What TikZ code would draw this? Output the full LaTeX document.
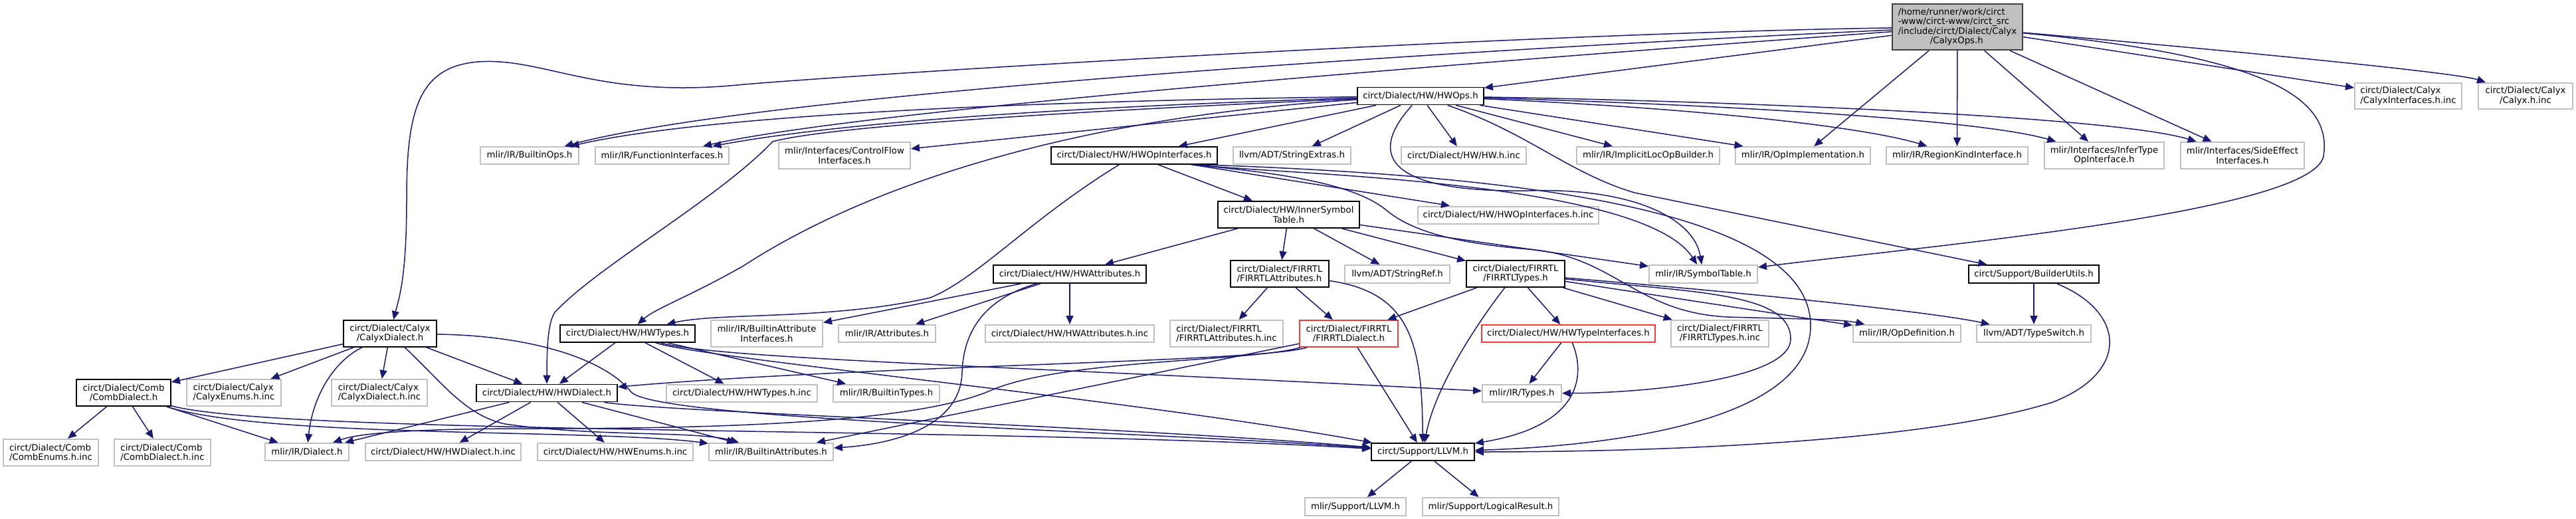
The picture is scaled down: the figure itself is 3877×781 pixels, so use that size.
\documentclass[tikz,border=0pt]{standalone}
\usepackage{fontspec}
\setmainfont{DejaVu Sans}
\usetikzlibrary{arrows.meta}
\definecolor{edgecol}{HTML}{191970}
\definecolor{leafcol}{HTML}{BFBFBF}
\definecolor{rootfill}{HTML}{BFBFBF}
\definecolor{rootdraw}{HTML}{404040}
\definecolor{redcol}{HTML}{F03C3C}
\begin{document}
\begin{tikzpicture}[x=1pt,y=-1pt,
  box/.style={draw, fill=white, inner sep=0pt, align=center, font=\fontsize{13.3}{14.5}\selectfont},
  leafbox/.style={box, draw=leafcol, line width=2pt},
  incbox/.style={box, draw=black, line width=1.8pt},
  redbox/.style={box, draw=redcol, line width=1.8pt},
  rootbox/.style={box, draw=rootdraw, fill=rootfill, line width=2.5pt, align=left},
  lft/.style={align=left},
  sz/.style 2 args={minimum width=#1pt, minimum height=#2pt},
  edge/.style={draw=edgecol, line width=1.5pt, -{Triangle[length=13pt,width=11pt]}},
]
\fill[white] (0,0) rectangle (3877,781);
\useasboundingbox (0,0) rectangle (3877,781);

% ---------- nodes ----------
\node[rootbox, sz={196}{69}] (root) at (2946,40.5) {/home/runner/work/circt\\-www/circt-www/circt\_src\\/include/circt/Dialect/Calyx\\\hspace*{48pt}/CalyxOps.h};
\node[leafbox, lft, sz={161}{39}] (calyxIfInc) at (3624.5,144.5) {circt/Dialect/Calyx\\/CalyxInterfaces.h.inc};
\node[leafbox, sz={142}{39}] (calyxInc) at (3801,144.5) {circt/Dialect/Calyx\\/Calyx.h.inc};
\node[incbox, sz={190}{26}] (hwOps) at (2138,144.5) {circt/Dialect/HW/HWOps.h};

\node[leafbox, sz={148}{26}] (builtinOps) at (797,234) {mlir/IR/BuiltinOps.h};
\node[leafbox, sz={201}{26}] (funcIf) at (996.5,234) {mlir/IR/FunctionInterfaces.h};
\node[leafbox, sz={198}{40}] (controlFlow) at (1271,234) {mlir/Interfaces/ControlFlow\\Interfaces.h};
\node[incbox, sz={250}{26}] (hwOpIf) at (1707,234) {circt/Dialect/HW/HWOpInterfaces.h};
\node[leafbox, sz={177}{26}] (stringExtras) at (1944.5,234) {llvm/ADT/StringExtras.h};
\node[leafbox, sz={188}{26}] (hwInc) at (2203,234) {circt/Dialect/HW/HW.h.inc};
\node[leafbox, sz={215}{26}] (implicitLoc) at (2480.5,234) {mlir/IR/ImplicitLocOpBuilder.h};
\node[leafbox, sz={203}{26}] (opImpl) at (2713.5,234) {mlir/IR/OpImplementation.h};
\node[leafbox, sz={213}{26}] (regionKind) at (2945.5,234) {mlir/IR/RegionKindInterface.h};
\node[leafbox, sz={180}{40}] (inferType) at (3167,234) {mlir/Interfaces/InferType\\OpInterface.h};
\node[leafbox, sz={186}{40}] (sideEffect) at (3375,234) {mlir/Interfaces/SideEffect\\Interfaces.h};

\node[incbox, sz={213}{40}] (innerSym) at (1939.5,323) {circt/Dialect/HW/InnerSymbol\\Table.h};
\node[leafbox, sz={272}{26}] (hwOpIfInc) at (2270,323.5) {circt/Dialect/HW/HWOpInterfaces.h.inc};

\node[incbox, sz={230}{27}] (hwAttr) at (1610,412.5) {circt/Dialect/HW/HWAttributes.h};
\node[incbox, lft, sz={148}{40}] (firAttr) at (1926,412) {circt/Dialect/FIRRTL\\/FIRRTLAttributes.h};
\node[leafbox, sz={158}{27}] (stringRef) at (2103,412.5) {llvm/ADT/StringRef.h};
\node[incbox, sz={148}{40}] (firTypes) at (2281,412) {circt/Dialect/FIRRTL\\/FIRRTLTypes.h};
\node[leafbox, sz={163}{27}] (symTable) at (2563.5,412.5) {mlir/IR/SymbolTable.h};
\node[incbox, sz={196}{27}] (builderUtils) at (3061,412.5) {circt/Support/BuilderUtils.h};

\node[incbox, sz={140}{40}] (calyxDialect) at (587,502) {circt/Dialect/Calyx\\/CalyxDialect.h};
\node[incbox, sz={203}{26}] (hwTypes) at (944.5,502) {circt/Dialect/HW/HWTypes.h};
\node[leafbox, sz={168}{40}] (biAttrIf) at (1154,502) {mlir/IR/BuiltinAttribute\\Interfaces.h};
\node[leafbox, sz={146}{26}] (attributes) at (1335,502) {mlir/IR/Attributes.h};
\node[leafbox, sz={254}{26}] (hwAttrInc) at (1610,502) {circt/Dialect/HW/HWAttributes.h.inc};
\node[leafbox, lft, sz={170}{40}] (firAttrInc) at (1846,502) {circt/Dialect/FIRRTL\\/FIRRTLAttributes.h.inc};
\node[redbox, sz={148}{40}] (firDialect) at (2030,502) {circt/Dialect/FIRRTL\\/FIRRTLDialect.h};
\node[redbox, sz={261}{26}] (hwTypeIf) at (2360.5,502) {circt/Dialect/HW/HWTypeInterfaces.h};
\node[leafbox, sz={147}{40}] (firTypesInc) at (2588.5,502) {circt/Dialect/FIRRTL\\/FIRRTLTypes.h.inc};
\node[leafbox, sz={162}{26}] (opDef) at (2870,502) {mlir/IR/OpDefinition.h};
\node[leafbox, sz={172}{26}] (typeSwitch) at (3061,502) {llvm/ADT/TypeSwitch.h};

\node[incbox, sz={142}{40}] (combDialect) at (186,591) {circt/Dialect/Comb\\/CombDialect.h};
\node[leafbox, lft, sz={142}{40}] (calyxEnumsInc) at (352,591) {circt/Dialect/Calyx\\/CalyxEnums.h.inc};
\node[leafbox, lft, sz={144}{40}] (calyxDialectInc) at (571,591) {circt/Dialect/Calyx\\/CalyxDialect.h.inc};
\node[incbox, sz={212}{26}] (hwDialect) at (823,591.5) {circt/Dialect/HW/HWDialect.h};
\node[leafbox, sz={227}{26}] (hwTypesInc) at (1116.5,591.5) {circt/Dialect/HW/HWTypes.h.inc};
\node[leafbox, sz={160}{26}] (builtinTypes) at (1334,591.5) {mlir/IR/BuiltinTypes.h};
\node[leafbox, sz={119}{26}] (types) at (2290.5,591.5) {mlir/IR/Types.h};

\node[leafbox, lft, sz={143}{40}] (combEnumsInc) at (76.5,681) {circt/Dialect/Comb\\/CombEnums.h.inc};
\node[leafbox, lft, sz={145}{40}] (combDialectInc) at (244.5,681) {circt/Dialect/Comb\\/CombDialect.h.inc};
\node[leafbox, sz={126}{26}] (dialect) at (462,680) {mlir/IR/Dialect.h};
\node[leafbox, sz={234}{26}] (hwDialectInc) at (667,680) {circt/Dialect/HW/HWDialect.h.inc};
\node[leafbox, sz={234}{26}] (hwEnumsInc) at (926,680) {circt/Dialect/HW/HWEnums.h.inc};
\node[leafbox, sz={187}{26}] (builtinAttrs) at (1160.5,680) {mlir/IR/BuiltinAttributes.h};
\node[incbox, sz={155}{26}] (llvm) at (2141.5,680) {circt/Support/LLVM.h};

\node[leafbox, sz={152}{27}] (mlirLLVM) at (2040,762.5) {mlir/Support/LLVM.h};
\node[leafbox, sz={205}{27}] (logicalResult) at (2243.5,762.5) {mlir/Support/LogicalResult.h};

% ---------- edges: CalyxOps.h ----------
\draw[edge] (root) .. controls (2300,50) and (1350,108) .. (1120,127) .. controls (900,150) and (820,86) .. (720,93) .. controls (628,100) and (612,170) .. (612,300) .. controls (612,420) and (600,450) .. (calyxDialect);
\draw[edge] (root) .. controls (2200,75) and (1150,140) .. (builtinOps);
\draw[edge] (root) .. controls (2200,95) and (1300,165) .. (funcIf);
\draw[edge] (root) -- (hwOps);
\draw[edge] (root) -- (opImpl);
\draw[edge] (root) -- (regionKind);
\draw[edge] (root) -- (inferType);
\draw[edge] (root) -- (sideEffect);
\draw[edge] (root) -- (calyxIfInc);
\draw[edge] (root) .. controls (3400,80) and (3700,110) .. (calyxInc);
\draw[edge] (root) .. controls (3420,85) and (3510,150) .. (3497,235) .. controls (3480,320) and (2900,370) .. (symTable);

% ---------- edges: HWOps.h ----------
\draw[edge] (hwOps) .. controls (1700,150) and (1100,165) .. (builtinOps);
\draw[edge] (hwOps) .. controls (1700,158) and (1300,178) .. (funcIf);
\draw[edge] (hwOps) -- (controlFlow);
\draw[edge] (hwOps) .. controls (1600,168) and (1250,190) .. (1163,213) .. controls (1080,300) and (900,400) .. (835,470) .. controls (825,485) and (823,520) .. (hwDialect.north);
\draw[edge] (hwOps) .. controls (1700,170) and (1350,250) .. (1119,400) .. controls (1040,445) and (985,465) .. (hwTypes);
\draw[edge] (hwOps) -- (hwOpIf);
\draw[edge] (hwOps) -- (stringExtras);
\draw[edge] (hwOps) -- (hwInc);
\draw[edge] (hwOps) -- (implicitLoc);
\draw[edge] (hwOps) -- (opImpl);
\draw[edge] (hwOps) .. controls (2600,165) and (2820,195) .. (regionKind);
\draw[edge] (hwOps) .. controls (2600,158) and (2980,180) .. (inferType);
\draw[edge] (hwOps) .. controls (2600,152) and (3180,175) .. (sideEffect);
\draw[edge] (hwOps) .. controls (2300,200) and (2360,260) .. (2460,290) -- (builderUtils);
\draw[edge] (hwOps) .. controls (2060,230) and (2080,290) .. (2300,287) .. controls (2460,282) and (2550,330) .. (symTable);

% ---------- edges: HWOpInterfaces.h ----------
\draw[edge] (hwOpIf) .. controls (1550,330) and (1470,420) .. (1400,448) .. controls (1250,482) and (1080,470) .. (hwTypes);
\draw[edge] (hwOpIf) -- (innerSym);
\draw[edge] (hwOpIf) -- (hwOpIfInc);
\draw[edge] ([xshift=-30pt]hwOpIf.south east) .. controls (1900,262) and (2470,268) .. (symTable);
\draw[edge] ([xshift=-40pt]hwOpIf.south east) .. controls (1950,262) and (2040,280) .. (2085,315) .. controls (2120,345) and (2180,365) .. (2300,375) .. controls (2430,385) and (2460,470) .. (2600,477) .. controls (2700,480) and (2770,480) .. (opDef);
\draw[edge] ([xshift=-20pt]hwOpIf.south east) .. controls (2200,262) and (2725,300) .. (2725,490) .. controls (2725,640) and (2400,672) .. (llvm);

% ---------- edges: InnerSymbolTable.h ----------
\draw[edge] (innerSym) -- (hwAttr);
\draw[edge] (innerSym) -- (firAttr);
\draw[edge] (innerSym) -- (stringRef);
\draw[edge] (innerSym) -- (firTypes);
\draw[edge] (innerSym) -- (symTable);

% ---------- edges: HWAttributes.h ----------
\draw[edge] (hwAttr) -- (biAttrIf);
\draw[edge] (hwAttr) -- (attributes);
\draw[edge] (hwAttr) -- (hwAttrInc);
\draw[edge] (hwAttr) .. controls (1480,450) and (1450,500) .. (1448,560) .. controls (1446,640) and (1350,668) .. (builtinAttrs);

% ---------- edges: FIRRTLAttributes.h ----------
\draw[edge] (firAttr) -- (firAttrInc);
\draw[edge] (firAttr) -- (firDialect);
\draw[edge] (firAttr) .. controls (2125,440) and (2140,520) .. (llvm);

% ---------- edges: FIRRTLTypes.h ----------
\draw[edge] (firTypes) -- (firDialect);
\draw[edge] (firTypes) .. controls (2228,480) and (2160,580) .. (llvm);
\draw[edge] (firTypes) -- (hwTypeIf);
\draw[edge] (firTypes) -- (firTypesInc);
\draw[edge] (firTypes) .. controls (2600,438) and (2900,468) .. (typeSwitch);
\draw[edge] (firTypes) -- (opDef);
\draw[edge] (firTypes) .. controls (2550,440) and (2695,440) .. (2695,510) .. controls (2695,575) and (2450,592) .. (types);

% ---------- edges: FIRRTLDialect.h ----------
\draw[edge] (firDialect) .. controls (1900,545) and (1300,550) .. (hwDialect);
\draw[edge] (firDialect) .. controls (1880,545) and (1600,540) .. (1490,588) .. controls (1380,635) and (1100,645) .. (800,645) .. controls (620,645) and (540,652) .. (dialect);
\draw[edge] (firDialect) -- (builtinAttrs);
\draw[edge] (firDialect) -- (llvm);

% ---------- edges: HWTypeInterfaces.h ----------
\draw[edge] (hwTypeIf) -- (types);
\draw[edge] (hwTypeIf) .. controls (2385,560) and (2385,640) .. (llvm);

% ---------- edges: BuilderUtils.h ----------
\draw[edge] (builderUtils) -- (typeSwitch);
\draw[edge] (builderUtils) .. controls (3200,470) and (3205,560) .. (3090,605) .. controls (2900,665) and (2500,680) .. (llvm);

% ---------- edges: HWTypes.h ----------
\draw[edge] (hwTypes) -- (hwDialect);
\draw[edge] (hwTypes) -- (hwTypesInc);
\draw[edge] (hwTypes) -- (builtinTypes);
\draw[edge] (hwTypes) .. controls (1080,540) and (1500,550) .. (types);
\draw[edge] (hwTypes) .. controls (1060,540) and (1700,600) .. (llvm);

% ---------- edges: HWDialect.h ----------
\draw[edge] (hwDialect) -- (dialect);
\draw[edge] (hwDialect) -- (hwDialectInc);
\draw[edge] (hwDialect) -- (hwEnumsInc);
\draw[edge] (hwDialect) -- (builtinAttrs);
\draw[edge] (hwDialect) .. controls (1000,620) and (1700,642) .. (llvm);

% ---------- edges: CalyxDialect.h ----------
\draw[edge] (calyxDialect) -- (combDialect);
\draw[edge] (calyxDialect) -- (calyxEnumsInc);
\draw[edge] (calyxDialect) .. controls (500,545) and (470,600) .. (dialect);
\draw[edge] (calyxDialect) -- (calyxDialectInc);
\draw[edge] (calyxDialect) -- (hwDialect);
\draw[edge] (calyxDialect) .. controls (665,575) and (700,625) .. (760,638) .. controls (900,658) and (1050,648) .. (builtinAttrs);
\draw[edge] (calyxDialect) .. controls (800,505) and (910,540) .. (950,590) .. controls (990,632) and (1700,648) .. (llvm);

% ---------- edges: CombDialect.h ----------
\draw[edge] (combDialect) -- (combEnumsInc);
\draw[edge] (combDialect) -- (combDialectInc);
\draw[edge] (combDialect) -- (dialect);
\draw[edge] (combDialect) .. controls (400,660) and (900,645) .. (builtinAttrs);
\draw[edge] (combDialect) .. controls (420,655) and (1500,642) .. (llvm);

% ---------- edges: LLVM.h ----------
\draw[edge] (llvm) -- (mlirLLVM);
\draw[edge] (llvm) -- (logicalResult);
\end{tikzpicture}
\end{document}
